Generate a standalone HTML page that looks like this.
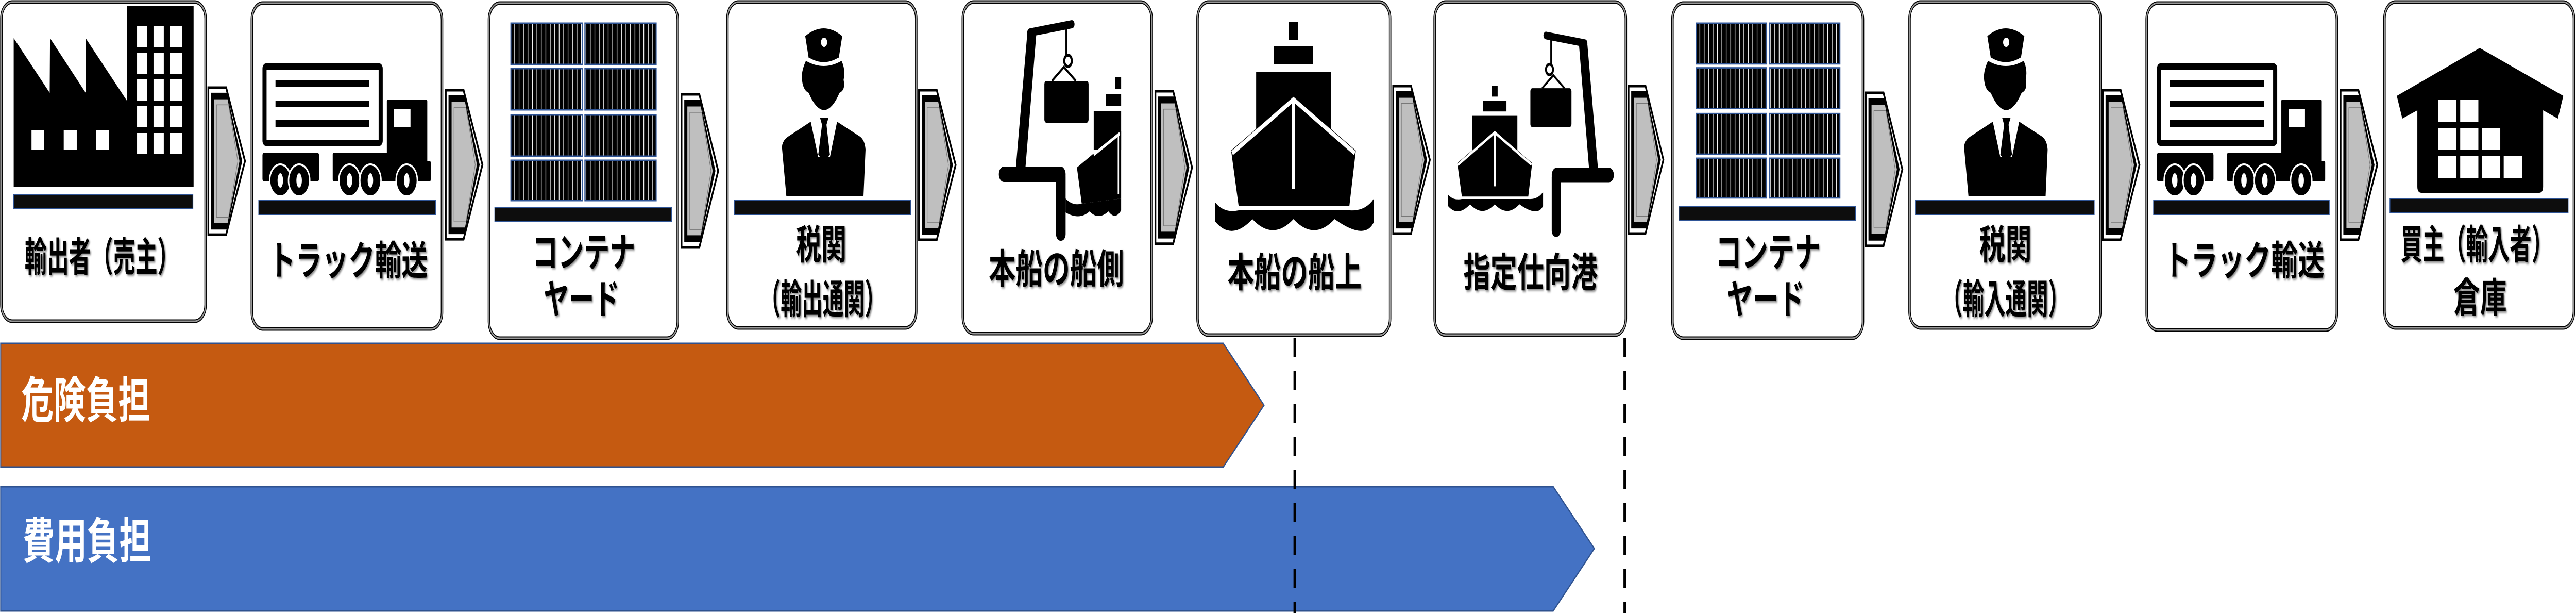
<!DOCTYPE html>
<html><head><meta charset="utf-8"><style>
html,body{margin:0;padding:0;background:#fff;width:100vw;height:100vh;overflow:hidden;}
svg{display:block;position:absolute;left:0;top:0;width:100vw;height:100vh;}
text{font-family:"Liberation Sans","Noto Sans CJK JP",sans-serif;font-weight:bold;}
</style></head><body>
<svg viewBox="0 0 7518 1189" preserveAspectRatio="none" xmlns="http://www.w3.org/2000/svg" overflow="hidden">
<defs>
<pattern id="st" patternUnits="userSpaceOnUse" width="13" height="10" x="0" y="0">
<rect width="13" height="10" fill="#000"/><rect x="10" width="1.8" height="10" fill="#fff"/>
</pattern>
<filter id="sh" x="-10%" y="-10%" width="120%" height="130%"><feDropShadow dx="3" dy="3" stdDeviation="2" flood-color="#000" flood-opacity="0.45"/></filter>
<g id="conn">
<polygon points="0,0 52,0 107,145 52,290 0,290" fill="#fff" stroke="#000" stroke-width="5"/>
<polygon points="8,10 54,10 99,145 54,280 8,280" fill="#000"/>
<polygon points="16,22 57,22 92,145 57,268 16,268" fill="#bfbfbf" stroke="#000" stroke-width="2"/>
<polygon points="24,34 59,34 86,145 59,256 24,256" fill="none" stroke="#777" stroke-width="1.5"/>
</g>
<g id="cont">
<g stroke="#2f5597" stroke-width="3">
<rect x="0" y="0" width="208" height="80" fill="url(#st)"/><rect x="216" y="0" width="208" height="80" fill="url(#st)"/>
<rect x="0" y="88" width="208" height="80" fill="url(#st)"/><rect x="216" y="88" width="208" height="80" fill="url(#st)"/>
<rect x="0" y="178" width="208" height="80" fill="url(#st)"/><rect x="216" y="178" width="208" height="80" fill="url(#st)"/>
<rect x="0" y="266" width="208" height="78" fill="url(#st)"/><rect x="216" y="266" width="208" height="78" fill="url(#st)"/>
</g>
</g>
<g id="officer">
<path d="M2350,70 Q2404,40 2458,70 L2448,112 Q2404,130 2360,112 Z" fill="#000"/>
<path d="M2360,114 Q2404,132 2448,114" fill="none" stroke="#fff" stroke-width="5"/>
<circle cx="2405" cy="82" r="9" fill="#fff"/>
<path d="M2352,118 Q2404,138 2456,118 Q2468,135 2462,155 Q2468,175 2450,180 Q2430,212 2405,214 Q2380,212 2360,180 Q2342,175 2340,150 Q2340,135 2352,118 Z" fill="#000"/>
<path d="M2282,285 Q2284,272 2300,265 L2366,236 L2388,305 L2422,305 L2443,236 L2510,265 Q2524,272 2526,290 L2520,381 L2295,381 Z" fill="#000"/>
<polygon points="2393,228 2418,228 2412,242 2422,300 2405,315 2388,300 2399,242" fill="#000"/>
</g>
<g id="truck">
<rect x="772" y="129" width="339" height="148" rx="4" fill="#fff" stroke="#000" stroke-width="12"/>
<rect x="804" y="156" width="274" height="13" fill="#000"/>
<rect x="804" y="195" width="274" height="13" fill="#000"/>
<rect x="804" y="233" width="274" height="13" fill="#000"/>
<path d="M1129,196 Q1129,193 1133,193 L1244,193 Q1247,193 1247,197 L1247,312 L1253,312 Q1257,312 1257,316 L1257,348 Q1257,352 1253,352 L975,352 Q971,352 971,348 L971,300 Q971,296 975,296 L1129,296 Z" fill="#000"/>
<rect x="1150" y="211" width="48" height="35" fill="#fff"/>
<rect x="766" y="296" width="165" height="56" rx="5" fill="#000"/>
<g stroke="#fff" stroke-width="4" fill="#000">
<circle cx="818" cy="350" r="31"/><circle cx="873" cy="350" r="31"/>
<circle cx="1020" cy="350" r="31"/><circle cx="1081" cy="350" r="31"/><circle cx="1187" cy="350" r="31"/>
</g>
<g fill="#fff">
<ellipse cx="818" cy="350" rx="8" ry="14"/><ellipse cx="873" cy="350" rx="8" ry="14"/>
<ellipse cx="1020" cy="350" rx="8" ry="14"/><ellipse cx="1081" cy="350" rx="8" ry="14"/><ellipse cx="1187" cy="350" rx="8" ry="14"/>
</g>
</g>
<g id="ship">
<rect x="3761" y="43" width="28" height="34" fill="#000"/>
<rect x="3718" y="90" width="114" height="35" fill="#000"/>
<rect x="3666" y="139" width="219" height="160" fill="#000"/>
<polygon points="3593,292 3775,187 3957,292 3938,400 3615,400" fill="#000"/>
<polyline points="3596,297 3775,193 3954,297" fill="none" stroke="#fff" stroke-width="9"/>
<rect x="3770" y="195" width="10" height="172" fill="#fff"/>
<path d="M3547,393 Q3572,414 3615,408 L3940,408 Q3985,410 4010,385 L4010,430 Q3985,468 3895,425 Q3835,468 3775,425 Q3715,468 3655,425 Q3595,468 3547,430 Z" fill="#000"/>
</g>
<g id="crane">
<rect x="2915" y="323" width="195" height="30" rx="15" fill="#000"/>
<rect x="3082" y="330" width="28" height="137" rx="13" fill="#000"/>
<polygon points="2965,323 2998,66 3010,56 3024,70 2993,323" fill="#000"/>
<line x1="3006" y1="63" x2="3128" y2="47" stroke="#000" stroke-width="16" stroke-linecap="round"/>
<line x1="3112" y1="55" x2="3112" y2="108" stroke="#000" stroke-width="5"/>
<circle cx="3117" cy="118" r="11" fill="none" stroke="#000" stroke-width="6"/>
<polyline points="3070,157 3105,130 3140,157" fill="none" stroke="#000" stroke-width="5"/>
<rect x="3048" y="157" width="129" height="81" rx="6" fill="#000"/>
</g>
</defs>

<g fill="#fff">
<g stroke="#000" stroke-width="7">
<rect x="4" y="4" width="596" height="619" rx="32"/>
<rect x="735" y="6" width="555" height="632" rx="32"/>
<rect x="1427" y="6" width="551" height="650" rx="32"/>
<rect x="2123" y="4" width="551" height="632" rx="32"/>
<rect x="2810" y="4" width="551" height="643" rx="32"/>
<rect x="3495" y="4" width="562" height="646" rx="32"/>
<rect x="4187" y="4" width="558" height="646" rx="32"/>
<rect x="4881" y="6" width="556" height="650" rx="32"/>
<rect x="5573" y="4" width="557" height="632" rx="32"/>
<rect x="6265" y="6" width="555" height="634" rx="32"/>
<rect x="6959" y="4" width="553" height="632" rx="32"/>
</g>
<g stroke="#999" stroke-width="3" fill="none">
<rect x="4" y="4" width="596" height="619" rx="32"/>
<rect x="735" y="6" width="555" height="632" rx="32"/>
<rect x="1427" y="6" width="551" height="650" rx="32"/>
<rect x="2123" y="4" width="551" height="632" rx="32"/>
<rect x="2810" y="4" width="551" height="643" rx="32"/>
<rect x="3495" y="4" width="562" height="646" rx="32"/>
<rect x="4187" y="4" width="558" height="646" rx="32"/>
<rect x="4881" y="6" width="556" height="650" rx="32"/>
<rect x="5573" y="4" width="557" height="632" rx="32"/>
<rect x="6265" y="6" width="555" height="634" rx="32"/>
<rect x="6959" y="4" width="553" height="632" rx="32"/>
</g>
</g>

<g fill="#0d0d0d" stroke="#2f5597" stroke-width="2">
<rect x="40" y="378" width="523" height="26"/>
<rect x="755" y="388" width="516" height="28"/>
<rect x="1444" y="402" width="516" height="27"/>
<rect x="2143" y="388" width="515" height="28"/>
<rect x="4900" y="400" width="515" height="27"/>
<rect x="5590" y="388" width="522" height="28"/>
<rect x="6285" y="388" width="513" height="28"/>
<rect x="6975" y="385" width="520" height="27"/>
</g>

<polygon points="40,74 145,180 146,74 250,180 250,74 370,195 370,12 565,12 565,362 40,362" fill="#000"/>
<g fill="#fff">
<rect x="400" y="50" width="30" height="42"/><rect x="448" y="50" width="30" height="42"/><rect x="496" y="50" width="36" height="42"/>
<rect x="400" y="103" width="30" height="40"/><rect x="448" y="103" width="30" height="40"/><rect x="496" y="103" width="36" height="40"/>
<rect x="400" y="154" width="30" height="41"/><rect x="448" y="154" width="30" height="41"/><rect x="496" y="154" width="36" height="41"/>
<rect x="400" y="206" width="30" height="41"/><rect x="448" y="206" width="30" height="41"/><rect x="496" y="206" width="36" height="41"/>
<rect x="400" y="258" width="30" height="41"/><rect x="448" y="258" width="30" height="41"/><rect x="496" y="258" width="36" height="41"/>
<rect x="92" y="253" width="36" height="38"/><rect x="186" y="253" width="38" height="38"/><rect x="281" y="253" width="37" height="38"/>
</g>

<use href="#truck"/>
<use href="#truck" transform="translate(5529,0)"/>
<use href="#cont" transform="translate(1491,45)"/>
<use href="#cont" transform="translate(4950,45) scale(0.99,0.985)"/>
<use href="#officer"/>
<use href="#officer" transform="translate(3450,0)"/>
<use href="#crane"/>
<g>
<rect x="3255" y="149" width="17" height="24" fill="#000"/>
<rect x="3228" y="183" width="44" height="23" fill="#000"/>
<rect x="3192" y="216" width="80" height="74" fill="#000"/>
<polygon points="3143,325 3268,255 3272,255 3272,385 3157,395" fill="#000"/>
<polyline points="3192,300 3268,259" fill="none" stroke="#fff" stroke-width="6"/>
<rect x="3262" y="262" width="4" height="115" fill="#fff"/>
<path d="M3110,385 Q3130,400 3157,395 L3272,385 L3272,408 Q3255,428 3235,410 Q3205,428 3180,410 Q3150,428 3110,412 Z" fill="#000"/>
</g>
<use href="#ship"/>
<use href="#ship" transform="translate(4225,167) scale(0.6) translate(-3546,-43)"/>
<use href="#crane" transform="translate(4710,67) scale(-0.93,0.93) translate(-2915,-45)"/>

<path d="M7237,93 L7481,186 L7465,230 L7422,214 L7422,362 Q7422,374 7410,374 L7067,374 Q7055,374 7055,362 L7055,214 L7011,230 L6995,186 Z" fill="#000"/>
<g fill="#fff">
<rect x="7116" y="194" width="53" height="43"/><rect x="7180" y="194" width="53" height="43"/>
<rect x="7116" y="248" width="53" height="43"/><rect x="7180" y="248" width="53" height="43"/><rect x="7244" y="248" width="53" height="43"/>
<rect x="7116" y="302" width="53" height="43"/><rect x="7180" y="302" width="53" height="43"/><rect x="7244" y="302" width="53" height="43"/><rect x="7307" y="302" width="54" height="43"/>
</g>

<use href="#conn" transform="translate(608,170) scale(1,0.983)"/>
<use href="#conn" transform="translate(1301,175) scale(1,0.997)"/>
<use href="#conn" transform="translate(1989,183) scale(1,1.024)"/>
<use href="#conn" transform="translate(2682,175)"/>
<use href="#conn" transform="translate(3372,177) scale(1,1.02)"/>
<use href="#conn" transform="translate(4066,167) scale(1,0.986)"/>
<use href="#conn" transform="translate(4753,167) scale(0.95,0.986)"/>
<use href="#conn" transform="translate(5445,180) scale(1,1.024)"/>
<use href="#conn" transform="translate(6137,175)"/>
<use href="#conn" transform="translate(6831,175)"/>

<g font-size="78" fill="#000" text-anchor="middle" dominant-baseline="central" filter="url(#sh)">
<text x="298" y="500" textLength="452" lengthAdjust="spacingAndGlyphs">輸出者（売主）</text>
<text x="1017" y="507" textLength="464" lengthAdjust="spacingAndGlyphs">トラック輸送</text>
<text x="1704" y="491" textLength="301" lengthAdjust="spacingAndGlyphs">コンテナ</text>
<text x="1697" y="582" textLength="221" lengthAdjust="spacingAndGlyphs">ヤード</text>
<text x="2397" y="476" textLength="147" lengthAdjust="spacingAndGlyphs">税関</text>
<text x="2401" y="582" textLength="368" lengthAdjust="spacingAndGlyphs">（輸出通関）</text>
<text x="3083" y="523" textLength="395" lengthAdjust="spacingAndGlyphs">本船の船側</text>
<text x="3778" y="530" textLength="392" lengthAdjust="spacingAndGlyphs">本船の船上</text>
<text x="4467" y="530" textLength="392" lengthAdjust="spacingAndGlyphs">指定仕向港</text>
<text x="5160" y="491" textLength="307" lengthAdjust="spacingAndGlyphs">コンテナ</text>
<text x="5153" y="582" textLength="227" lengthAdjust="spacingAndGlyphs">ヤード</text>
<text x="5853" y="476" textLength="153" lengthAdjust="spacingAndGlyphs">税関</text>
<text x="5853" y="582" textLength="374" lengthAdjust="spacingAndGlyphs">（輸入通関）</text>
<text x="6550" y="507" textLength="468" lengthAdjust="spacingAndGlyphs">トラック輸送</text>
<text x="7229" y="476" textLength="446" lengthAdjust="spacingAndGlyphs">買主（輸入者）</text>
<text x="7238" y="579" textLength="156" lengthAdjust="spacingAndGlyphs">倉庫</text>
</g>

<polygon points="2,666 3570,666 3689,786 3570,906 2,906" fill="#c55a11" stroke="#2f528f" stroke-width="3"/>
<polygon points="2,944 4533,944 4653,1064 4533,1185 2,1185" fill="#4472c4" stroke="#2f528f" stroke-width="3"/>
<g font-size="95" fill="#fff" dominant-baseline="central">
<text x="62" y="778" textLength="377" lengthAdjust="spacingAndGlyphs">危険負担</text>
<text x="66" y="1051" textLength="376" lengthAdjust="spacingAndGlyphs">費用負担</text>
</g>

<line x1="3779" y1="655" x2="3779" y2="1189" stroke="#000" stroke-width="8" stroke-dasharray="37 27"/>
<line x1="4742" y1="655" x2="4742" y2="1189" stroke="#000" stroke-width="8" stroke-dasharray="37 27"/>
</svg>
</body></html>
